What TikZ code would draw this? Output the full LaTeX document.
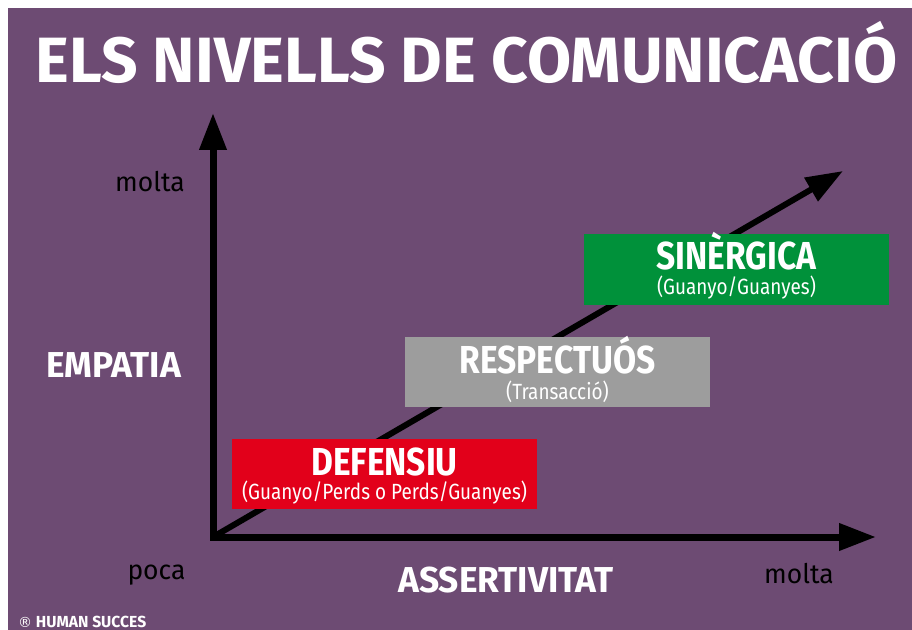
\documentclass[tikz,border=0pt]{standalone}
\usepackage{fontspec}
\setmainfont{Fira Sans}[FakeStretch=0.86]
\newfontfamily\widefont{Fira Sans}[FakeStretch=0.98]
\newfontfamily\titlefont{Fira Sans}[FakeStretch=1.0]
\newfontfamily\regfont{DejaVu Sans}
\usetikzlibrary{arrows.meta}
\definecolor{bgpurple}{HTML}{6D4B73}
\definecolor{defred}{HTML}{E2001A}
\definecolor{resgray}{HTML}{9D9D9D}
\definecolor{singreen}{HTML}{00913A}
\newcommand\fsz[1]{\fontsize{#1bp}{#1bp}\selectfont}

\begin{document}
\begin{tikzpicture}[x=1bp, y=-1bp,
  axis/.style={line width=7bp, line join=miter},
  tip/.style={-{Triangle[length=37bp, width=26bp]}},
  levelbox/.style={minimum width=305bp, minimum height=70bp, inner sep=0pt},
  head/.style={anchor=base, text=white, inner sep=0pt, font=\fsz{39}\bfseries},
  sub/.style={anchor=base, text=white, inner sep=0pt, font=\fsz{22}},
  axislabel/.style={anchor=base, text=white, inner sep=0pt, font=\widefont\fsz{36}\bfseries},
  scalelabel/.style={anchor=base, text=black, inner sep=0pt, font=\widefont\fsz{27}}]
\useasboundingbox (0,0) rectangle (912,630);
\fill[white] (0,0) rectangle (912,630);
\fill[bgpurple] (8,8) rectangle (912,630);

\node[anchor=base, text=white, inner sep=0pt, font=\titlefont\fsz{64}\bfseries] (title) at (466.5,83) {ELS NIVELLS DE COMUNICACIÓ};

% axes
\coordinate (origin) at (213,537);
\coordinate (ytip) at (213,113);
\coordinate (xtip) at (876,537);
\coordinate (dtip) at (843,171);
\draw[axis, {Triangle[length=37bp, width=26bp]}-{Triangle[length=37bp, width=26bp]}] (ytip) -- (origin) -- (xtip);
\draw[axis, tip, line width=6bp] (origin) -- (dtip);

% levels
\node[levelbox, fill=defred] (defensiu) at (384.5,474) {};
\node[levelbox, fill=resgray] (respectuos) at (557.5,372) {};
\node[levelbox, fill=singreen] (sinergica) at (736.5,269.5) {};

\node[head] (defensiuhead) at ([yshift=-1bp]defensiu.center) {DEFENSIU};
\node[sub] (defensiusub) at ([yshift=-25bp]defensiu.center) {(Guanyo/Perds o Perds/Guanyes)};
\node[head] (respectuoshead) at ([yshift=-1bp]respectuos.center) {RESPECTUÓS};
\node[sub] (respectuossub) at ([yshift=-27bp]respectuos.center) {(Transacció)};
\node[head] (sinergicahead) at ([yshift=-0.5bp]sinergica.center) {SINÈRGICA};
\node[sub] (sinergicasub) at ([yshift=-25bp]sinergica.center) {(Guanyo/Guanyes)};

% labels
\node[axislabel] (empatia) at (113.5,377) {EMPATIA};
\node[axislabel] (assertivitat) at (506,592) {ASSERTIVITAT};
\node[scalelabel] (ymolta) at (150,192) {molta};
\node[scalelabel] (ypoca) at (156.5,579) {poca};
\node[scalelabel] (xmolta) at (799,583) {molta};
\node[anchor=base west, text=white, inner sep=0pt, font=\widefont\fsz{16}\bfseries] (credit) at (18,627) {{\regfont\mdseries\fsz{14}®} HUMAN SUCCES};
\end{tikzpicture}
\end{document}
